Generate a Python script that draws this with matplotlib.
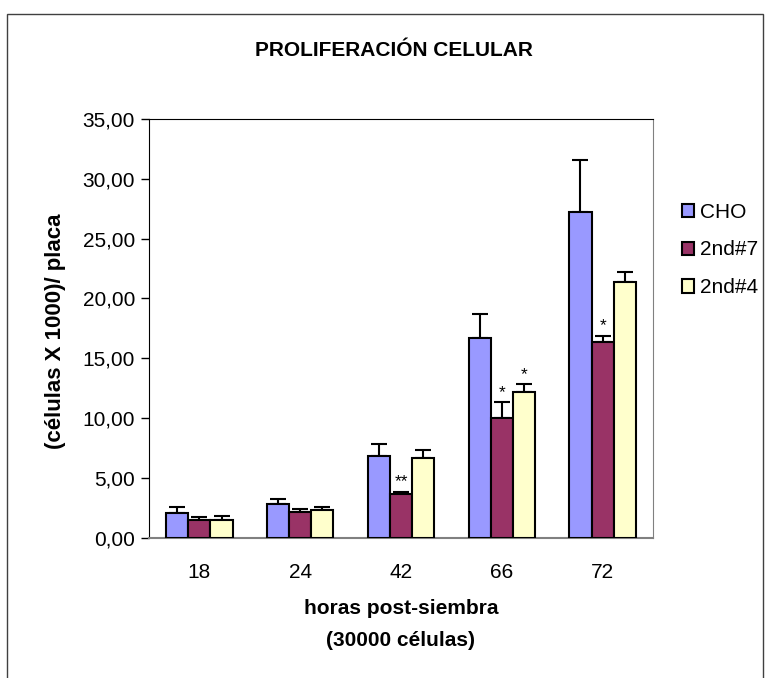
import matplotlib
matplotlib.use("Agg")
import matplotlib.pyplot as plt
import numpy as np
from matplotlib.patches import Rectangle
from matplotlib.ticker import FuncFormatter

plt.rcParams['font.family'] = ['Liberation Sans', 'DejaVu Sans']

# data
horas = ["18", "24", "42", "66", "72"]
series = ["CHO", "2nd#7", "2nd#4"]
cho = [2.04, 2.84, 6.83, 16.67, 27.21]
cho_err = [0.50, 0.37, 1.03, 2.03, 4.35]
nd7 = [1.48, 2.17, 3.68, 10.03, 16.34]
nd7_err = [0.22, 0.20, 0.17, 1.32, 0.55]
nd4 = [1.50, 2.34, 6.69, 12.21, 21.35]
nd4_err = [0.34, 0.20, 0.64, 0.64, 0.87]
# significance marks: (series index, category index, label)
marks = [(1, 2, "**"), (1, 3, "*"), (2, 3, "*"), (1, 4, "*")]

colors = ["#9999FF", "#993366", "#FFFFCC"]

W, H = 766, 678
fig = plt.figure(figsize=(W / 100, H / 100), dpi=100)
ax = fig.add_axes([149 / W, 1 - 537.7 / H, (653 - 149) / W, (537.7 - 119) / H])

x = np.arange(len(horas))
w = 0.22
vals = [cho, nd7, nd4]
errs = [cho_err, nd7_err, nd4_err]
for i, (v, e) in enumerate(zip(vals, errs)):
    pos = x + (i - 1) * w
    ax.bar(pos, v, w, color=colors[i], edgecolor="black", linewidth=1.5,
           label=series[i], zorder=3)
    ax.errorbar(pos, v, yerr=[np.zeros(len(e)), e], fmt="none", ecolor="black",
                elinewidth=1.5, capsize=5.5, capthick=1.5, zorder=2)

for si, ci, lab in marks:
    top = vals[si][ci] + errs[si][ci]
    ax.annotate(lab, (x[ci] + (si - 1) * w, top), xytext=(0, 1.5),
                textcoords="offset points", ha="center", va="bottom", fontsize=12.5)

ax.set_xlim(-0.5, len(horas) - 0.5)
ax.set_ylim(0, 35)
ax.set_yticks(np.arange(0, 36, 5))
ax.yaxis.set_major_formatter(FuncFormatter(lambda v, p: f"{v:.2f}".replace(".", ",")))
ax.set_xticks(x)
ax.set_xticklabels(horas)
ax.tick_params(axis="x", length=0, pad=18, labelsize=15)
ax.tick_params(axis="y", length=6, width=1, direction="out", labelsize=15, pad=4)

ax.spines["left"].set_color("black")
ax.spines["bottom"].set_color("#808080")
ax.spines["bottom"].set_linewidth(1.5)
ax.spines["top"].set_color("black")
ax.spines["right"].set_color("#808080")

fig.text(56 / W, 1 - 331 / H, "(células X 1000)/ placa", rotation=90, ha="center",
         va="center", fontsize=16, fontweight="bold")
fig.text(401 / W, 1 - 608 / H, "horas post-siembra", ha="center", va="center",
         fontsize=15, fontweight="bold")
fig.text(401 / W, 1 - 640 / H, "(30000 células)", ha="center", va="center",
         fontsize=15, fontweight="bold")

fig.text(394 / W, 1 - 51 / H, "PROLIFERACIÓN CELULAR", ha="center", va="center",
         fontsize=15, fontweight="bold")

leg = ax.legend(loc="upper left", bbox_to_anchor=(1.057, 0.80), frameon=False,
                fontsize=15, handlelength=0.6, handleheight=0.6, handletextpad=0.3,
                labelspacing=0.9, borderaxespad=0, borderpad=0)

fig.patches.append(Rectangle((7 / W, -0.01), (763 - 7) / W, 1 - 14 / H + 0.01,
                             transform=fig.transFigure, fill=False,
                             edgecolor="#404040", linewidth=1))

fig.savefig("out.png", dpi=100)
